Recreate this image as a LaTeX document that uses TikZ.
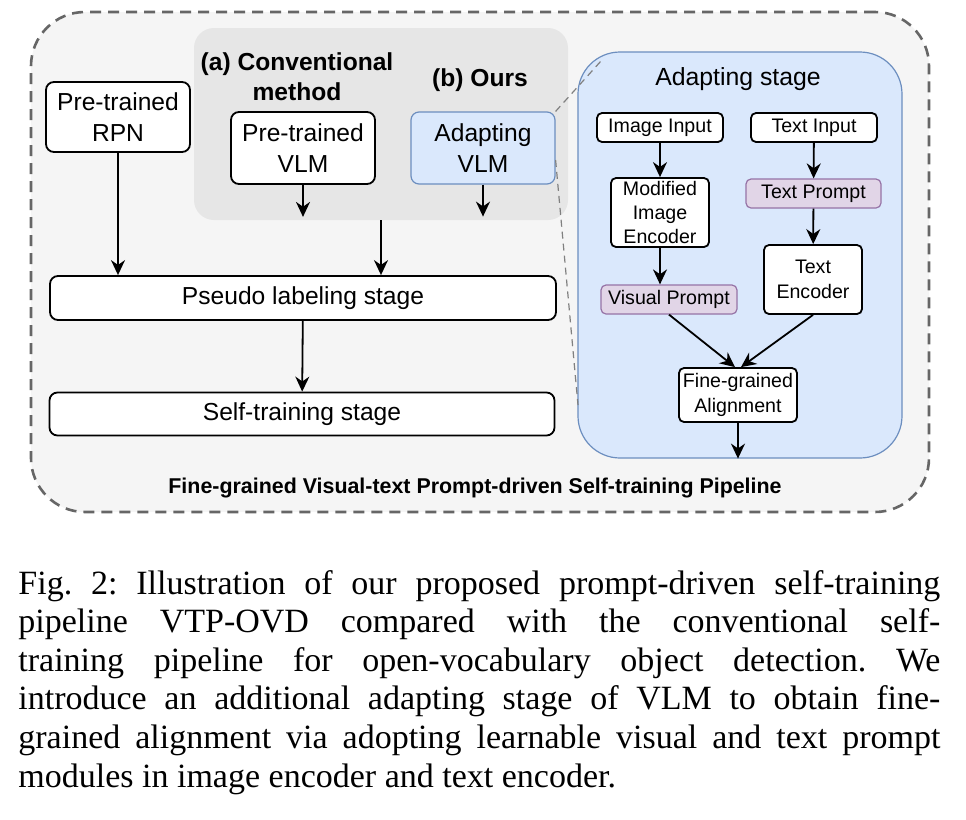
\documentclass[tikz,border=0pt]{standalone}
\usepackage{fontspec}
\setmainfont{Liberation Serif}
\newfontfamily\diagfont{Liberation Sans}
\usetikzlibrary{arrows.meta}

\definecolor{outerfill}{HTML}{F5F5F5}
\definecolor{outerline}{HTML}{666666}
\definecolor{convgray}{HTML}{E6E6E6}
\definecolor{bluefill}{HTML}{DAE8FC}
\definecolor{blueline}{HTML}{6C8EBF}
\definecolor{purplefill}{HTML}{E1D5E7}
\definecolor{purpleline}{HTML}{9673A6}

\newcommand{\bigtext}{\diagfont\fontsize{12.3}{15.5}\selectfont}
\newcommand{\smalltext}{\diagfont\fontsize{9.8}{12.2}\selectfont}
\newcommand{\headtext}{\diagfont\bfseries\fontsize{12.3}{15}\selectfont}
\newcommand{\captext}{\fontsize{17}{19.3}\selectfont\frenchspacing}

% short arrow leaving a VLM box into the gray area
\newcommand{\stubarrow}[1]{%
    \coordinate (#1out) at ([yshift=-16pt]#1.south);
    \draw[arr] (#1) -- (#1out);
}

\begin{document}
\begin{tikzpicture}[x=0.5pt, y=-0.5pt,
    box/.style={draw=black, line width=0.9pt, rounded corners=4pt, fill=white,
        align=center, inner sep=0pt, font=\bigtext},
    smallbox/.style={box, rounded corners=2.5pt, font=\smalltext},
    bluebox/.style={box, draw=blueline, fill=bluefill, line width=0.6pt},
    promptbox/.style={smallbox, draw=purpleline, fill=purplefill, line width=0.6pt},
    arr/.style={-{Stealth[length=7.5pt, width=7pt]}, line width=0.9pt},
    link/.style={draw=gray, line width=0.6pt, dash pattern=on 3.5pt off 2.5pt}]
    \useasboundingbox (0,0) rectangle (966,820);

    % Background areas
    \node[draw=outerline, fill=outerfill, line width=1.3pt, dash pattern=on 5.5pt off 3.5pt,
        rounded corners=27pt, minimum width=449pt, minimum height=250pt] (pipeline) at (480,262) {};
    \node[fill=convgray, rounded corners=10pt, inner sep=0pt,
        minimum width=187pt, minimum height=96pt] (conv) at (381,124) {};
    \node[draw=blueline, fill=bluefill, line width=0.6pt, rounded corners=21pt,
        minimum width=162pt, minimum height=203pt] (panel) at (740,255) {};

    % Left part: self-training pipeline
    \node[font=\headtext, align=center] (convlabel) at (297,77) {(a) Conventional\\method};
    \node[font=\headtext] (ourslabel) at (480,80) {(b) Ours};
    \node[box, minimum width=72pt, minimum height=35pt] (rpn) at (118,117) {Pre-trained\\RPN};
    \node[box, minimum width=72pt, minimum height=36pt] (vlm) at (303,148) {Pre-trained\\VLM};
    \node[bluebox, minimum width=72pt, minimum height=36pt] (adapt) at (483,148) {Adapting\\VLM};
    \node[box, minimum width=253pt, minimum height=22pt] (pseudo) at (303,298) {Pseudo labeling stage};
    \node[box, minimum width=252.5pt, minimum height=21.5pt] (selftrain) at (302,414) {Self-training stage};
    \node[font=\diagfont\bfseries\fontsize{10.7}{12}\selectfont] (pipelabel) at (475,488)
        {Fine-grained Visual-text Prompt-driven Self-training Pipeline};

    \stubarrow{vlm}
    \stubarrow{adapt}
    \draw[arr] (rpn) -- (rpn.south |- pseudo.north);
    \draw[arr] (conv.south) -- (conv.south |- pseudo.north);
    \draw[arr] (pseudo) -- (selftrain);

    % Right part: adapting stage
    \node[font=\diagfont\fontsize{12.4}{14}\selectfont] (paneltitle) at (738,79) {Adapting stage};
    \node[smallbox, minimum width=63pt, minimum height=14.5pt] (img) at (660,127.5) {Image Input};
    \node[smallbox, minimum width=63pt, minimum height=14.5pt] (txt) at (814,127.5) {Text Input};
    \node[smallbox, minimum width=49pt, minimum height=34.5pt] (imgenc) at (660,212.5) {Modified\\Image\\Encoder};
    \node[promptbox, minimum width=67.5pt, minimum height=14.5pt] (txtprompt) at (813.5,193.5) {Text Prompt};
    \node[promptbox, minimum width=68pt, minimum height=14.5pt] (visprompt) at (669,299.5) {Visual Prompt};
    \node[smallbox, minimum width=49pt, minimum height=34.5pt] (txtenc) at (813,279.5) {Text\\Encoder};
    \node[smallbox, minimum width=59pt, minimum height=27pt] (align) at (738,395) {Fine-grained\\Alignment};

    \foreach \a/\b in {img/imgenc, txt/txtprompt, txtprompt/txtenc} {
        \draw[arr] (\a) -- (\b);
    }
    \draw[arr] (imgenc.south) -- (imgenc.south |- visprompt.north);
    \draw[arr] (visprompt.south) -- ([xshift=-1.5pt]align.north);
    \draw[arr] (txtenc.south) -- ([xshift=1.5pt]align.north);
    \draw[arr] (align) -- (align.south |- panel.south);

    % Zoom lines from Adapting VLM to the panel
    \coordinate (zoomtop) at (601,61);
    \coordinate (zoombot) at (578,405);
    \draw[link] (adapt.north east) -- (zoomtop);
    \draw[link] ([yshift=-6pt]adapt.east) -- (zoombot);

    % Caption
    \node[anchor=base west, text width=461pt, align=justify, inner sep=0pt, font=\captext] (caption) at (18,594)
        {Fig. 2: Illustration of our proposed prompt-driven self-training\linebreak
        pipeline VTP-OVD compared with the conventional self-\linebreak
        training pipeline for open-vocabulary object detection. We\linebreak
        introduce an additional adapting stage of VLM to obtain fine-\linebreak
        grained alignment via adopting learnable visual and text prompt\linebreak
        modules in image encoder and text encoder.};
\end{tikzpicture}
\end{document}
